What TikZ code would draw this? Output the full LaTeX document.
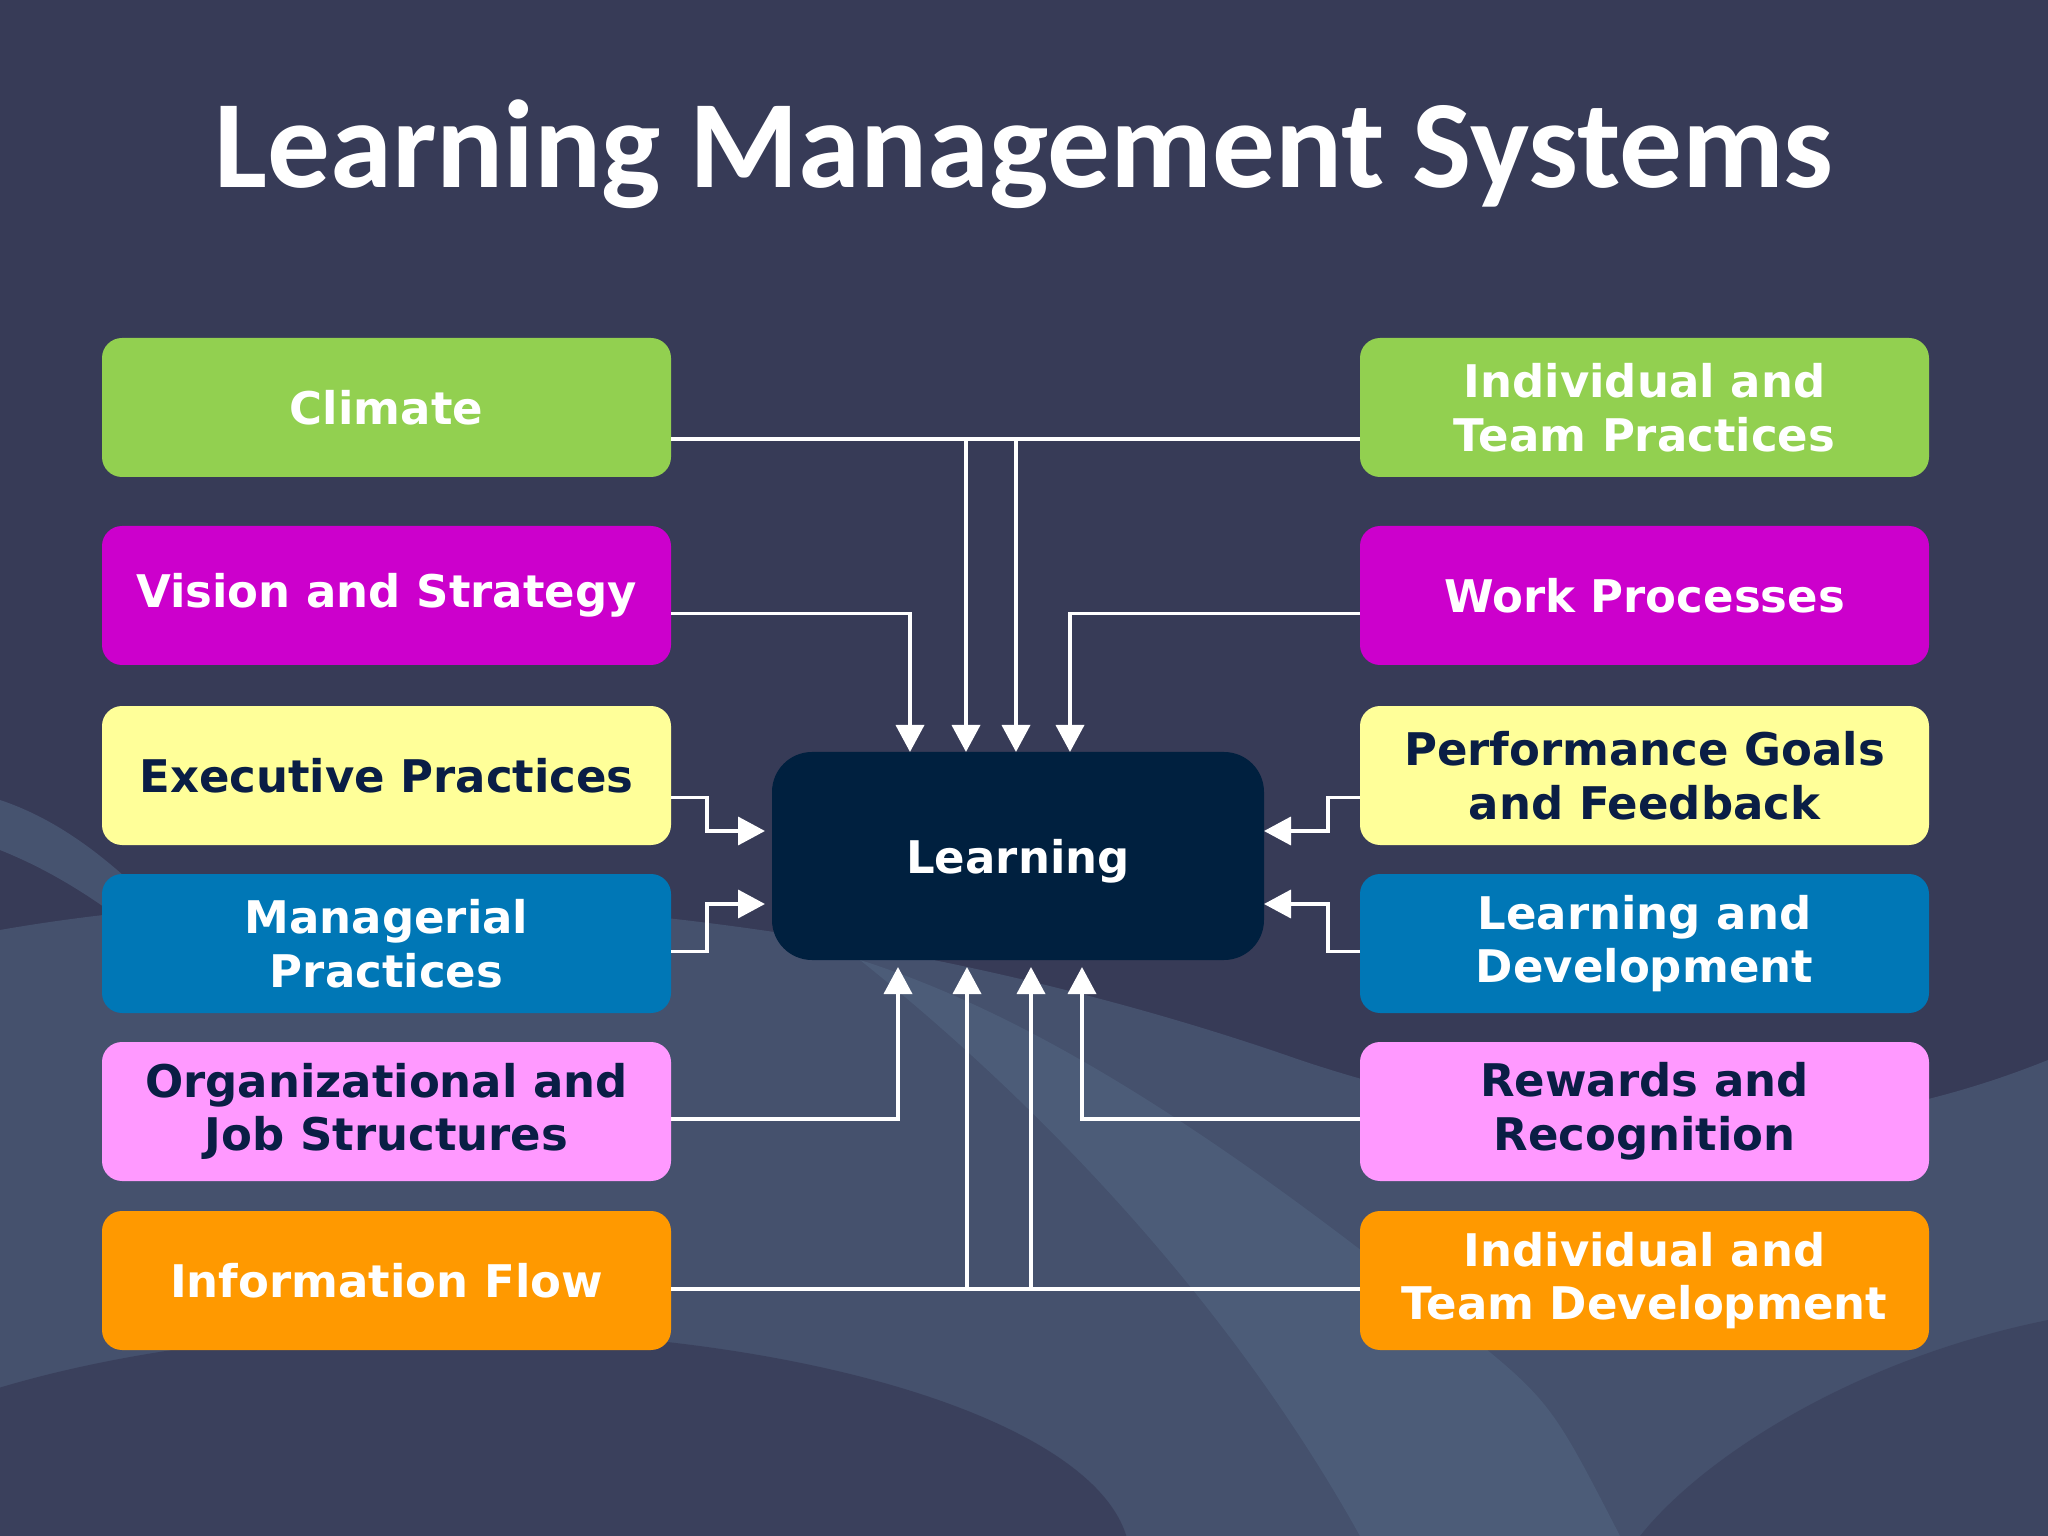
\documentclass[tikz,border=0pt]{standalone}
\usepackage{fontspec}
\setmainfont{DejaVu Sans}
\newfontfamily\titlefont{Carlito}
\usetikzlibrary{arrows.meta,positioning}

\definecolor{slide}{HTML}{373B57}
\definecolor{wave}{HTML}{6A8BA8}
\definecolor{navy}{HTML}{0A1E45}
\definecolor{core}{HTML}{00203F}
\definecolor{cgreen}{HTML}{92D050}
\definecolor{cmagenta}{HTML}{CC00CC}
\definecolor{cyellow}{HTML}{FFFF99}
\definecolor{cblue}{HTML}{0077B6}
\definecolor{cpink}{HTML}{FF99FF}
\definecolor{corange}{HTML}{FF9900}

\tikzset{
  factor/.style={rectangle, rounded corners=2mm, minimum width=5.69cm,
    minimum height=1.39cm, inner sep=0pt, outer sep=0pt, align=center,
    font=\bfseries\fontsize{12.8}{15.3}\selectfont},
  light/.style={factor, text=white},
  dark/.style={factor, text=navy},
  wire/.style={draw=white, line width=1.05pt},
}

\begin{document}
\begin{tikzpicture}[>={Triangle[length=2.7mm,width=2.8mm]},node distance=0.3cm]
  % slide background
  \fill[slide] (0,0) rectangle (20.48,-15.36);
  \useasboundingbox (0,0) rectangle (20.48,-15.36);
  \fill[wave, opacity=0.28] (0,-9.3) .. controls (4,-8.6) and (9,-9.2) .. (13,-10.6)
    .. controls (16,-11.6) and (18.5,-11.4) .. (20.48,-10.6) -- (20.48,-15.36) -- (0,-15.36) -- cycle;
  \fill[wave, opacity=0.2] (8.6,-9.6) .. controls (10.5,-10.2) and (12.5,-11.6) .. (14.5,-13.2)
    .. controls (15.5,-14) .. (16.2,-15.36) -- (13.6,-15.36)
    .. controls (12.4,-13.2) and (10.6,-11.2) .. (8.6,-9.6) -- cycle;
  \fill[wave, opacity=0.3] (0,-8.0) .. controls (0.6,-8.2) and (1.1,-8.6) .. (1.6,-9.1)
    -- (1.6,-9.5) .. controls (1.0,-9.0) and (0.5,-8.7) .. (0,-8.5) -- cycle;
  \fill[slide, opacity=0.75] (4.5,-15.6) ellipse (6.8cm and 2.3cm);
  \fill[slide, opacity=0.5] (20.48,-13.2) .. controls (18.5,-13.6) and (17,-14.6) .. (16.4,-15.36)
    -- (20.48,-15.36) -- cycle;

  \node[font=\titlefont\bfseries\fontsize{35.6}{40}\selectfont, text=white]
    (title) at (10.24,-1.545) {Learning Management Systems};

  % left column
  \node[light, fill=cgreen] (climate) at (3.865,-4.075) {Climate};
  \node[light, fill=cmagenta, below=0.49cm of climate] (vision) {Vision and Strategy};
  \node[dark, fill=cyellow, below=0.41cm of vision] (exec) {Executive Practices};
  \node[light, fill=cblue, below=0.29cm of exec] (manage) {Managerial\\Practices};
  \node[dark, fill=cpink, below=0.29cm of manage] (orgjob) {Organizational and\\Job Structures};
  \node[light, fill=corange, below=0.30cm of orgjob] (info) {Information Flow};

  % right column
  \node[light, fill=cgreen, right=6.89cm of climate] (teampr) {Individual and\\Team Practices};
  \node[light, fill=cmagenta, right=6.89cm of vision] (work) {Work Processes};
  \node[dark, fill=cyellow, right=6.89cm of exec] (perf) {Performance Goals\\and Feedback};
  \node[light, fill=cblue, right=6.89cm of manage] (learndev) {Learning and\\Development};
  \node[dark, fill=cpink, right=6.89cm of orgjob] (reward) {Rewards and\\Recognition};
  \node[light, fill=corange, right=6.89cm of info] (teamdev) {Individual and\\Team Development};

  % centre
  \node[rectangle, rounded corners=4mm, fill=core, text=white, minimum width=4.92cm,
    minimum height=2.08cm, outer sep=0pt, text depth=0pt,
    font=\bfseries\fontsize{12.8}{15.3}\selectfont]
    (learn) at (10.18,-8.56) {Learning};

  \coordinate (tinA) at ([xshift=-10.8mm]learn.north);
  \coordinate (tinB) at ([xshift=-5.2mm]learn.north);
  \coordinate (tinC) at ([xshift=-0.2mm]learn.north);
  \coordinate (tinD) at ([xshift=5.2mm]learn.north);
  \coordinate (binA) at ([xshift=-12mm,yshift=-0.7mm]learn.south);
  \coordinate (binB) at ([xshift=-5.1mm,yshift=-0.7mm]learn.south);
  \coordinate (binC) at ([xshift=1.3mm,yshift=-0.7mm]learn.south);
  \coordinate (binD) at ([xshift=6.4mm,yshift=-0.7mm]learn.south);
  \coordinate (lin1) at ([xshift=-0.7mm,yshift=2.5mm]learn.west);
  \coordinate (lin2) at ([xshift=-0.7mm,yshift=-4.8mm]learn.west);
  \coordinate (rin1) at ([yshift=2.5mm]learn.east);
  \coordinate (rin2) at ([yshift=-4.8mm]learn.east);
  \coordinate (topbus) at ([yshift=-3.15mm]climate.east);
  \coordinate (botbus) at ([yshift=-0.85mm]info.east);

  % connectors
  \draw[wire] (topbus) -- (topbus -| teampr.west);
  \draw[wire,->] (topbus -| tinB) -- (tinB);
  \draw[wire,->] (topbus -| tinC) -- (tinC);
  \draw[wire,->] ([yshift=-1.8mm]vision.east) -| (tinA);
  \draw[wire,->] ([yshift=-1.8mm]work.west) -| (tinD);
  \draw[wire,->] ([yshift=-2.2mm]exec.east) -- ++(0.36,0) |- (lin1);
  \draw[wire,->] ([yshift=-0.8mm]manage.east) -- ++(0.36,0) |- (lin2);
  \draw[wire,->] ([yshift=-2.2mm]perf.west) -- ++(-0.32,0) |- (rin1);
  \draw[wire,->] ([yshift=-0.8mm]learndev.west) -- ++(-0.32,0) |- (rin2);
  \draw[wire,->] ([yshift=-0.75mm]orgjob.east) -| (binA);
  \draw[wire,->] ([yshift=-0.75mm]reward.west) -| (binD);
  \draw[wire] (botbus) -- (botbus -| teamdev.west);
  \draw[wire,->] (botbus -| binB) -- (binB);
  \draw[wire,->] (botbus -| binC) -- (binC);
\end{tikzpicture}
\end{document}
